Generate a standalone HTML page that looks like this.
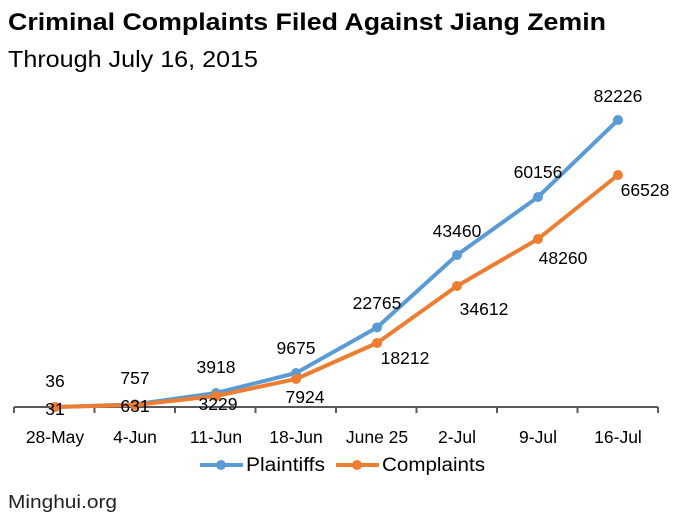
<!DOCTYPE html>
<html><head><style>
body{margin:0;background:#fff;}
svg{display:block;font-family:"Liberation Sans",sans-serif;}
</style></head><body>
<svg width="677" height="520" viewBox="0 0 677 520">
<text x="8" y="30" font-size="24" font-weight="bold" fill="#000" textLength="598" lengthAdjust="spacingAndGlyphs">Criminal Complaints Filed Against Jiang Zemin</text>
<text x="8" y="67" font-size="23" fill="#000" textLength="250" lengthAdjust="spacingAndGlyphs">Through July 16, 2015</text>
<g stroke="#595959" stroke-width="2">
<line x1="14" y1="407" x2="658" y2="407"/>
<line x1="14" y1="407" x2="14" y2="413"/><line x1="94.5" y1="407" x2="94.5" y2="413"/><line x1="175" y1="407" x2="175" y2="413"/><line x1="255.5" y1="407" x2="255.5" y2="413"/><line x1="336" y1="407" x2="336" y2="413"/><line x1="416.5" y1="407" x2="416.5" y2="413"/><line x1="497" y1="407" x2="497" y2="413"/><line x1="577.5" y1="407" x2="577.5" y2="413"/><line x1="658" y1="407" x2="658" y2="413"/>
</g>
<polyline fill="none" stroke="#5b9bd5" stroke-width="4" stroke-linejoin="round" points="55,407 135,404.4 216,393 296,373 377,327.5 457,255 538,197 618,120"/>
<g fill="#5b9bd5"><circle cx="55" cy="407" r="5"/><circle cx="135" cy="404.4" r="5"/><circle cx="216" cy="393" r="5"/><circle cx="296" cy="373" r="5"/><circle cx="377" cy="327.5" r="5"/><circle cx="457" cy="255" r="5"/><circle cx="538" cy="197" r="5"/><circle cx="618" cy="120" r="5"/></g>
<polyline fill="none" stroke="#ed7d31" stroke-width="4" stroke-linejoin="round" points="55,407 135,405 216,396 296,379 377,343 457,286 538,239 618,175"/>
<g fill="#ed7d31"><circle cx="55" cy="407" r="5"/><circle cx="135" cy="405" r="5"/><circle cx="216" cy="396" r="5"/><circle cx="296" cy="379" r="5"/><circle cx="377" cy="343" r="5"/><circle cx="457" cy="286" r="5"/><circle cx="538" cy="239" r="5"/><circle cx="618" cy="175" r="5"/></g>
<g font-size="17.5" fill="#000" text-anchor="middle">
<text x="55" y="387">36</text><text x="135" y="384">757</text><text x="216" y="373">3918</text><text x="296" y="354">9675</text><text x="377" y="309">22765</text><text x="457" y="237">43460</text><text x="538" y="178">60156</text><text x="618" y="102">82226</text>
<text x="55" y="415">31</text><text x="135" y="412">631</text><text x="218" y="410">3229</text><text x="305" y="403">7924</text><text x="405" y="364">18212</text><text x="484" y="315">34612</text><text x="563" y="264">48260</text><text x="645" y="196">66528</text>
<text x="55" y="443">28-May</text><text x="135" y="443">4-Jun</text><text x="216" y="443">11-Jun</text><text x="296" y="443">18-Jun</text><text x="377" y="443">June 25</text><text x="457" y="443">2-Jul</text><text x="538" y="443">9-Jul</text><text x="618" y="443">16-Jul</text>
</g>
<line x1="200" y1="465" x2="243" y2="465" stroke="#5b9bd5" stroke-width="4"/><circle cx="221" cy="465" r="5" fill="#5b9bd5"/>
<text x="246" y="471" font-size="19" textLength="79" lengthAdjust="spacingAndGlyphs">Plaintiffs</text>
<line x1="336" y1="465" x2="379" y2="465" stroke="#ed7d31" stroke-width="4"/><circle cx="357" cy="465" r="5" fill="#ed7d31"/>
<text x="382" y="471" font-size="19" textLength="103" lengthAdjust="spacingAndGlyphs">Complaints</text>
<text x="8" y="508" font-size="18" fill="#222" textLength="109" lengthAdjust="spacingAndGlyphs">Minghui.org</text>
</svg>
</body></html>
